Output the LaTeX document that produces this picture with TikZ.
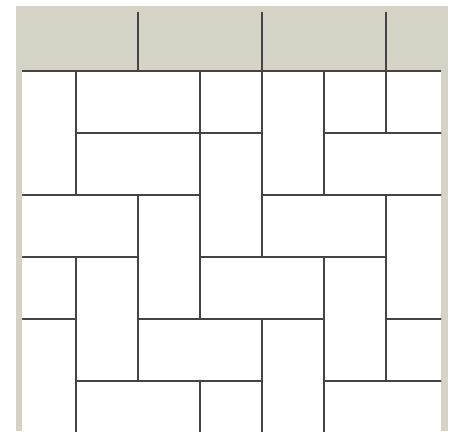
\documentclass[tikz,border=0pt]{standalone}
\usepackage{tikz}
\usetikzlibrary{positioning}
\usepackage{xcolor}
\definecolor{panel}{HTML}{D5D2C6}
\definecolor{edge}{HTML}{444444}

\begin{document}
\begin{tikzpicture}[
  tile/.style={draw=edge, line width=0.6pt},
  rule/.style={draw=edge, line width=0.9pt}]
  \useasboundingbox (-0.2258,-5.8065) rectangle (7.0806,1.1452);

  % frame and floor area
  \fill[panel] (0.032,-5.8065) rectangle (7,1.0484);
  \fill[white] (0.134,-5.8065) rectangle (6.887,0);

  % floor tiles
  \begin{scope}
    \clip (0.134,-5.8065) rectangle (6.887,0);
    % lying tiles
    \foreach \c/\r in {1/0, 6/0, 1/1, 5/1, 0/2, 4/2, -1/3, 3/3, 2/4, 6/4, 1/5, 5/5}
      \draw[tile] (\c,-\r) rectangle ++(2,-1);
    % standing tiles
    \foreach \c/\r in {0/0, 3/-1, 4/0, 5/-1, 3/1, 2/2, 6/2, 1/3, 5/3, 0/4, 4/4, 3/5}
      \draw[tile] (\c,-\r) rectangle ++(1,-2);
  \end{scope}

  % header dividers
  \foreach \x in {2,4,6}
    \draw[tile] (\x,0.952) -- (\x,0);
  \draw[rule] (0.134,0) -- (6.887,0);
\end{tikzpicture}
\end{document}
